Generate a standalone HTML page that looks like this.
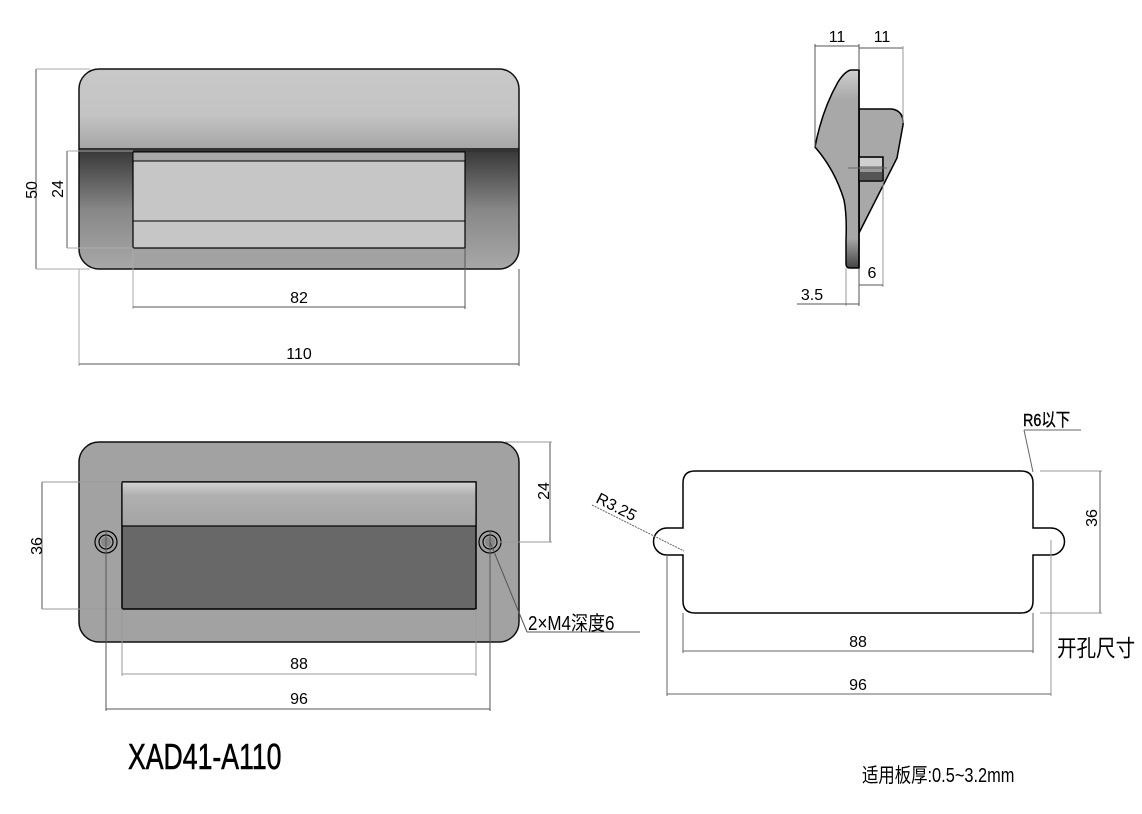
<!DOCTYPE html>
<html><head><meta charset="utf-8"><style>
html,body{margin:0;padding:0;background:#fff;}
svg{display:block;}
text{font-family:"Liberation Sans","Noto Sans CJK SC",sans-serif;fill:#000;}
</style></head><body>
<svg width="1142" height="814" viewBox="0 0 1142 814" xmlns="http://www.w3.org/2000/svg">
<defs>
<linearGradient id="topg" x1="0" y1="0" x2="0" y2="1">
<stop offset="0" stop-color="#c8c8c8"/><stop offset="0.55" stop-color="#c4c4c4"/><stop offset="1" stop-color="#a4a4a4"/></linearGradient>
<linearGradient id="sideg" x1="0" y1="0" x2="0" y2="1">
<stop offset="0" stop-color="#3a3a3a"/><stop offset="0.5" stop-color="#888"/><stop offset="1" stop-color="#a8a8a8"/></linearGradient>
<linearGradient id="flapg" x1="0" y1="0" x2="0" y2="1">
<stop offset="0" stop-color="#d4d4d4"/><stop offset="0.3" stop-color="#b0b0b0"/><stop offset="1" stop-color="#a4a4a4"/></linearGradient>
<linearGradient id="sidev" x1="0" y1="0" x2="0" y2="1">
<stop offset="0" stop-color="#cfcfcf"/><stop offset="0.15" stop-color="#a8a8a8"/><stop offset="0.85" stop-color="#a8a8a8"/><stop offset="1" stop-color="#444"/></linearGradient>
<clipPath id="c1"><rect x="79" y="69" width="440" height="200" rx="20"/></clipPath>
</defs>

<!-- TOP-LEFT VIEW -->
<g clip-path="url(#c1)">
<rect x="79" y="69" width="440" height="200" fill="#a2a2a2"/>
<rect x="79" y="69" width="440" height="82" fill="url(#topg)"/>
<rect x="79" y="148" width="440" height="4" fill="#333"/>
<rect x="79" y="152" width="54" height="117" fill="url(#sideg)"/>
<rect x="465" y="152" width="54" height="117" fill="url(#sideg)"/>
</g>
<rect x="79" y="69" width="440" height="200" rx="20" fill="none" stroke="#111" stroke-width="1.5"/>
<rect x="133" y="152" width="332" height="96" fill="#c6c6c6" stroke="#000" stroke-width="1.2"/>
<rect x="133" y="152" width="332" height="9" fill="#a8a8a8" stroke="#000" stroke-width="1"/>
<line x1="133" y1="221" x2="465" y2="221" stroke="#000" stroke-width="1"/>
<g stroke="#555" stroke-width="1" fill="none">
<line x1="36" y1="69" x2="36" y2="269"/>
<line x1="36" y1="69" x2="90" y2="69" stroke="#aaa"/>
<line x1="36" y1="269" x2="90" y2="269" stroke="#aaa"/>
<line x1="67" y1="151" x2="67" y2="248"/>
<line x1="67" y1="151" x2="133" y2="151" stroke="#aaa"/>
<line x1="67" y1="248" x2="133" y2="248" stroke="#aaa"/>
<line x1="133" y1="248" x2="133" y2="309" stroke="#aaa"/>
<line x1="465" y1="248" x2="465" y2="309"/>
<line x1="133" y1="307" x2="465" y2="307"/>
<line x1="79" y1="269" x2="79" y2="366" stroke="#aaa"/>
<line x1="519" y1="269" x2="519" y2="366"/>
<line x1="79" y1="364" x2="519" y2="364"/>
</g>
<text x="37" y="190" font-size="16" transform="rotate(-90 37 190)" text-anchor="middle">50</text>
<text x="63" y="189" font-size="16" transform="rotate(-90 63 189)" text-anchor="middle">24</text>
<text x="299" y="303" font-size="16" text-anchor="middle">82</text>
<text x="299" y="359" font-size="16" text-anchor="middle">110</text>

<!-- SIDE VIEW -->
<path d="M859,109 L892,109 Q904,111 903,125 L897,158 L859,233 Z" fill="#a8a8a8" stroke="#000" stroke-width="1.5"/>
<path d="M859,70 L851,70 Q845,71 838,82 Q822,110 815,147 Q835,170 844,200 Q847,215 846,240 L846,264 Q846,268 850,268 L859,268 Z" fill="url(#sidev)" stroke="#000" stroke-width="1.5"/>
<line x1="859" y1="70" x2="859" y2="268" stroke="#000" stroke-width="1.5"/>
<rect x="859" y="157" width="24" height="24" fill="#999" stroke="#000" stroke-width="1.5"/>
<rect x="860" y="158" width="22" height="8" fill="#d0d0d0"/>
<rect x="860" y="172" width="22" height="8" fill="#555"/>
<line x1="848" y1="168" x2="887" y2="168" stroke="#666" stroke-width="1"/>
<g stroke="#555" stroke-width="1" fill="none">
<line x1="815" y1="44" x2="815" y2="147"/>
<line x1="859" y1="44" x2="859" y2="70"/>
<line x1="815" y1="46" x2="859" y2="46"/>
<line x1="859" y1="48" x2="903" y2="48"/>
<line x1="903" y1="46" x2="903" y2="123" stroke="#999"/>
<line x1="883" y1="181" x2="883" y2="287" stroke="#999"/>
<line x1="859" y1="268" x2="859" y2="306"/>
<line x1="846" y1="268" x2="846" y2="306" stroke="#999"/>
<line x1="859" y1="285" x2="883" y2="285"/>
<line x1="797" y1="304" x2="859" y2="304"/>
</g>
<text x="837" y="42" font-size="16" text-anchor="middle">11</text>
<text x="882" y="42" font-size="16" text-anchor="middle">11</text>
<text x="872" y="278" font-size="16" text-anchor="middle">6</text>
<text x="812" y="300" font-size="16" text-anchor="middle">3.5</text>

<!-- BOTTOM-LEFT VIEW -->
<rect x="79" y="442" width="440" height="200" rx="20" fill="#a2a2a2" stroke="#111" stroke-width="1.5"/>
<rect x="122" y="482" width="354" height="127" fill="#686868" stroke="#000" stroke-width="1.5"/>
<rect x="122" y="482" width="354" height="44" fill="url(#flapg)" stroke="#000" stroke-width="1.2"/>
<g fill="none" stroke="#000" stroke-width="1.2">
<circle cx="106" cy="542" r="11"/><circle cx="106" cy="542" r="7"/>
<circle cx="490" cy="542" r="11"/><circle cx="490" cy="542" r="7"/>
</g>
<circle cx="106" cy="542" r="5" fill="#888"/><circle cx="490" cy="542" r="5" fill="#888"/>
<g stroke="#555" stroke-width="1" fill="none">
<line x1="42" y1="482" x2="42" y2="609"/>
<line x1="42" y1="482" x2="122" y2="482" stroke="#999"/>
<line x1="42" y1="609" x2="122" y2="609" stroke="#999"/>
<line x1="550" y1="442" x2="550" y2="542"/>
<line x1="505" y1="442" x2="552" y2="442" stroke="#999"/>
<line x1="500" y1="542" x2="552" y2="542" stroke="#999"/>
<line x1="122" y1="609" x2="122" y2="676" stroke="#999"/>
<line x1="476" y1="609" x2="476" y2="676" stroke="#999"/>
<line x1="122" y1="674" x2="476" y2="674" stroke="#999"/>
<line x1="106" y1="530" x2="106" y2="711"/>
<line x1="490" y1="530" x2="490" y2="711"/>
<line x1="106" y1="709" x2="490" y2="709"/>
<line x1="490" y1="542" x2="527" y2="632"/>
<line x1="527" y1="632" x2="640" y2="632"/>
</g>
<text x="42" y="546" font-size="16" transform="rotate(-90 42 546)" text-anchor="middle">36</text>
<text x="549" y="491" font-size="16" transform="rotate(-90 549 491)" text-anchor="middle">24</text>
<text x="299" y="669" font-size="16" text-anchor="middle">88</text>
<text x="299" y="704" font-size="16" text-anchor="middle">96</text>
<text x="528" y="630" font-size="20" transform="translate(528 0) scale(0.85 1) translate(-528 0)">2×M4深度6</text>
<text x="128" y="769" font-size="36" transform="translate(128 0) scale(0.74 1) translate(-128 0)" stroke="#000" stroke-width="0.6">XAD41-A110</text>

<!-- CUTOUT VIEW -->
<path d="M695,471 L1021,471 Q1033,471 1033,483 L1033,528 L1051,528 A13.5,13.5 0 0 1 1051,555 L1033,555 L1033,601 Q1033,613 1021,613 L695,613 Q683,613 683,601 L683,555 L667,555 A13.5,13.5 0 0 1 667,528 L683,528 L683,483 Q683,471 695,471 Z" fill="#fff" stroke="#000" stroke-width="1.5"/>
<g stroke="#666" stroke-width="1" fill="none">
<line x1="1040" y1="471" x2="1102" y2="471" stroke="#999"/>
<line x1="1040" y1="613" x2="1102" y2="613" stroke="#999"/>
<line x1="1100" y1="471" x2="1100" y2="613"/>
<line x1="683" y1="613" x2="683" y2="653"/>
<line x1="1033" y1="613" x2="1033" y2="653"/>
<line x1="683" y1="651" x2="1033" y2="651"/>
<line x1="667" y1="555" x2="667" y2="696"/>
<line x1="1051" y1="540" x2="1051" y2="696" stroke="#999"/>
<line x1="667" y1="694" x2="1051" y2="694"/>
<line x1="592" y1="505" x2="684" y2="551" stroke-dasharray="2,1"/>
<line x1="1024" y1="430" x2="1033" y2="472"/>
<line x1="1024" y1="430" x2="1081" y2="430"/>
</g>
<text x="1097" y="518" font-size="16" transform="rotate(-90 1097 518)" text-anchor="middle">36</text>
<text x="858" y="647" font-size="16" text-anchor="middle">88</text>
<text x="858" y="690" font-size="16" text-anchor="middle">96</text>
<text x="595" y="502" font-size="16" transform="rotate(27 595 502)">R3.25</text>
<text x="1023" y="426" font-size="18" transform="translate(1023 0) scale(0.8 1) translate(-1023 0)" stroke="#000" stroke-width="0.4">R6以下</text>
<text x="1057" y="656" font-size="23" transform="translate(1057 0) scale(0.85 1) translate(-1057 0)">开孔尺寸</text>
<text x="862" y="782" font-size="20" transform="translate(862 0) scale(0.82 1) translate(-862 0)">适用板厚:0.5~3.2mm</text>
</svg>
</body></html>
